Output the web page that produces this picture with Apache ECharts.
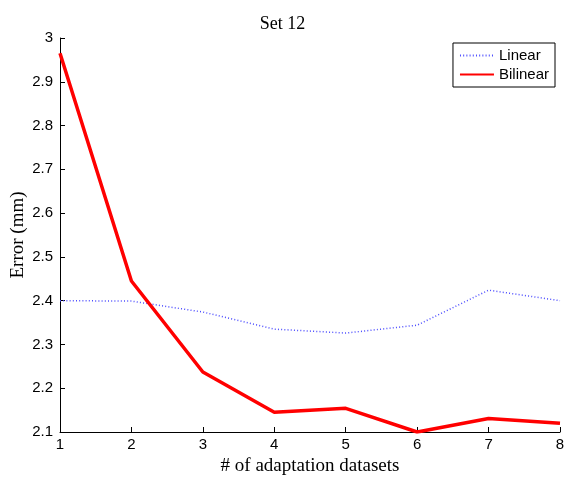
<!DOCTYPE html>
<html>
<head>
<meta charset="utf-8">
<script src="https://cdn.jsdelivr.net/npm/echarts@6/dist/echarts.min.js"></script>
<style>
  html, body { margin: 0; padding: 0; background: #fff; }
  #chart { width: 565px; height: 477px; }
</style>
</head>
<body>
<div id="chart"></div>
<script>
// x 轴类别（数据集数量）
const datasets = [1, 2, 3, 4, 5, 6, 7, 8];
// 各方法误差 (mm)
const linearErr = [2.400, 2.399, 2.374, 2.335, 2.326, 2.344, 2.424, 2.400];
const bilinearErr = [2.965, 2.445, 2.237, 2.145, 2.154, 2.100, 2.131, 2.120];

const sans = 'Liberation Sans';
const serif = 'Liberation Serif';

const chart = echarts.init(document.getElementById('chart'));

chart.setOption({
  animation: false,
  title: {
    text: 'Set 12',
    left: 'center',
    top: 10,
    textStyle: {fontFamily: serif, fontWeight: 'normal', fontSize: 18, color: '#000'}
  },
  grid: {left: 60, right: 5, top: 38, bottom: 45, outerBoundsMode: 'none', containLabel: false},
  legend: {
    orient: 'vertical',
    right: 10,
    top: 43,
    padding: [5, 6, 5, 6],
    itemGap: 4,
    itemWidth: 34,
    itemHeight: 14,
    borderColor: '#000',
    borderWidth: 1,
    itemStyle: {opacity: 0},
    textStyle: {fontFamily: sans, fontSize: 15, color: '#000'},
    data: ['Linear', 'Bilinear']
  },
  xAxis: {
    type: 'value',
    min: 1,
    max: 8,
    interval: 1,
    name: '# of adaptation datasets',
    nameLocation: 'middle',
    nameGap: 25,
    nameMoveOverlap: false,
    nameTextStyle: {fontFamily: serif, fontSize: 19, color: '#000'},
    axisLine: {lineStyle: {color: '#000', width: 1}},
    axisTick: {inside: true, length: 5, lineStyle: {color: '#000'}},
    axisLabel: {fontFamily: sans, fontSize: 15, color: '#000', margin: 5},
    splitLine: {show: false}
  },
  yAxis: {
    type: 'value',
    min: 2.1,
    max: 3,
    interval: 0.1,
    name: 'Error (mm)',
    nameLocation: 'middle',
    nameGap: 32,
    nameMoveOverlap: false,
    nameTextStyle: {fontFamily: serif, fontSize: 19, color: '#000'},
    axisLine: {show: true, lineStyle: {color: '#000', width: 1}},
    axisTick: {show: true, inside: true, length: 5, lineStyle: {color: '#000'}},
    axisLabel: {
      fontFamily: sans, fontSize: 15, color: '#000', margin: 7,
      formatter: v => String(Math.round(v * 10) / 10)
    },
    splitLine: {show: false}
  },
  series: [
    {
      name: 'Linear',
      type: 'line',
      data: datasets.map((x, i) => [x, linearErr[i]]),
      symbol: 'none',
      itemStyle: {color: '#4d4dff'},
      lineStyle: {color: '#4d4dff', width: 1.5, type: [1, 2.2]}
    },
    {
      name: 'Bilinear',
      type: 'line',
      data: datasets.map((x, i) => [x, bilinearErr[i]]),
      symbol: 'none',
      itemStyle: {color: '#ff0000'},
      lineStyle: {color: '#ff0000', width: 3.5}
    }
  ]
});
</script>
</body>
</html>
